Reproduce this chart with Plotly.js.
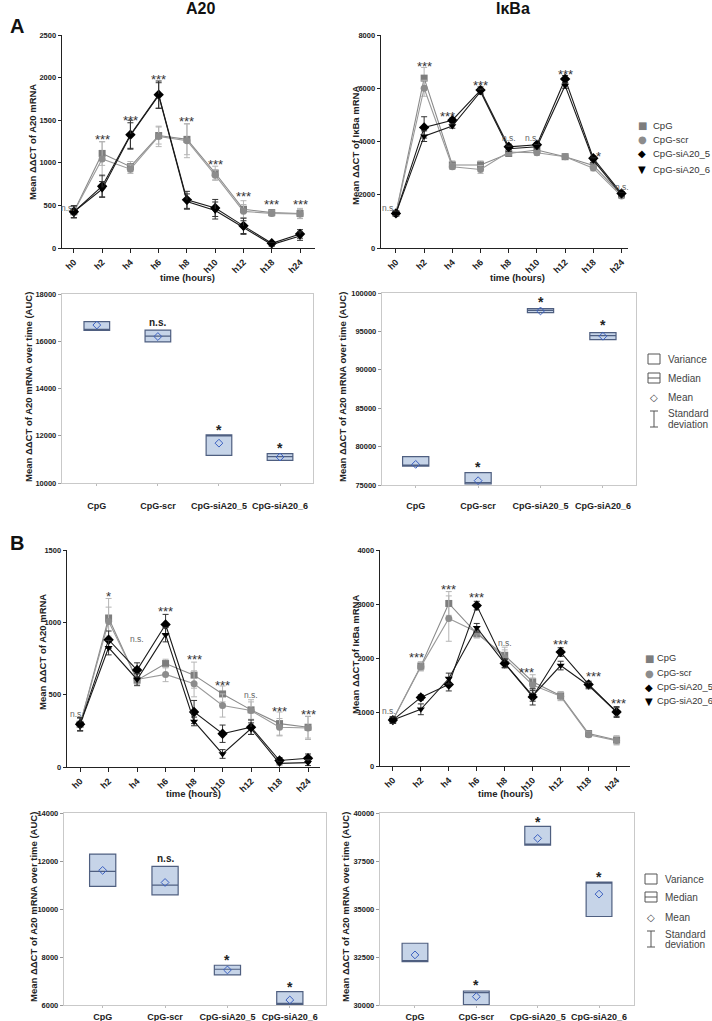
<!DOCTYPE html>
<html><head><meta charset="utf-8">
<script src="https://cdn.plot.ly/plotly-3.0.1.min.js"></script>
<style>html,body{margin:0;padding:0;background:#fff}#chart{width:712px;height:1021px}</style>
</head><body><div id="chart"></div>
<script>
const W = 712, H = 1021;
const px = v => v / W, py = v => 1 - v / H;

const timePoints = ['h0','h2','h4','h6','h8','h10','h12','h18','h24'];
const groups = ['CpG','CpG-scr','CpG-siA20_5','CpG-siA20_6'];

// ---- Panel A : A20 time course ----
const a20A_CpG = [425, 1110, 955, 1320, 1275, 880, 455, 415, 405];
const a20A_scr = [425, 1045, 925, 1310, 1260, 855, 430, 405, 400];
const a20A_si5 = [425, 725, 1330, 1800, 565, 470, 260, 55, 165];
const a20A_si6 = [425, 690, 1320, 1790, 545, 440, 240, 40, 140];
const a20A_CpG_sd = [70, 140, 60, 100, 180, 80, 100, 30, 60];
const a20A_scr_sd = [70, 200, 50, 120, 200, 60, 80, 30, 50];
const a20A_si5_sd = [70, 130, 170, 160, 100, 100, 90, 20, 50];
const a20A_si6_sd = [70, 90, 150, 150, 90, 100, 80, 20, 50];
const a20A_sig = ['n.s.','***','***','***','***','***','***','***','***'];
const a20A_sigY = [470, 1310, 1535, 2010, 1525, 1010, 635, 540, 540];

// ---- Panel A : IkBa time course ----
const ikbA_CpG = [1300, 6380, 3120, 3120, 3550, 3680, 3430, 3100, 2000];
const ikbA_scr = [1300, 6000, 3050, 2950, 3600, 3580, 3430, 3000, 1950];
const ikbA_si5 = [1300, 4530, 4800, 5930, 3800, 3880, 6350, 3370, 2050];
const ikbA_si6 = [1300, 4200, 4580, 5870, 3730, 3800, 6100, 3300, 2000];
const ikbA_CpG_sd = [80, 400, 150, 150, 100, 100, 60, 100, 80];
const ikbA_scr_sd = [80, 300, 100, 150, 100, 100, 60, 100, 80];
const ikbA_si5_sd = [80, 400, 80, 120, 100, 80, 130, 80, 60];
const ikbA_si6_sd = [80, 200, 80, 100, 100, 80, 100, 80, 60];
const ikbA_sig = ['n.s.','***','***','***','n.s.','n.s.','***','*','n.s.'];
const ikbA_sigY = [1500, 6940, 5040, 6210, 4125, 4125, 6625, 3560, 2310];

// ---- Panel B : A20 time course ----
const a20B_CpG = [295, 1030, 600, 715, 635, 505, 395, 300, 275];
const a20B_scr = [295, 1005, 605, 640, 575, 425, 390, 275, 270];
const a20B_si5 = [295, 880, 670, 985, 380, 230, 275, 45, 60];
const a20B_si6 = [295, 825, 605, 915, 315, 90, 265, 25, 30];
const a20B_CpG_sd = [45, 135, 40, 30, 90, 55, 70, 80, 75];
const a20B_scr_sd = [45, 100, 40, 50, 90, 80, 60, 60, 80];
const a20B_si5_sd = [45, 60, 50, 70, 80, 60, 50, 20, 30];
const a20B_si6_sd = [45, 50, 40, 50, 30, 30, 40, 10, 20];
const a20B_sig = ['n.s.','*','n.s.','***','***','***','n.s.','***','***'];
const a20B_sigY = [369, 1200, 884, 1096, 762, 584, 500, 404, 381];

// ---- Panel B : IkBa time course ----
const ikbB_CpG = [850, 1850, 3010, 2450, 2050, 1560, 1300, 600, 480];
const ikbB_scr = [850, 1840, 2730, 2480, 2000, 1500, 1290, 580, 470];
const ikbB_si5 = [850, 1270, 1510, 2970, 1900, 1280, 2110, 1510, 1000];
const ikbB_si6 = [850, 1050, 1620, 2560, 1900, 1300, 1860, 1490, 1000];
const ikbB_CpG_sd = [60, 80, 220, 80, 150, 130, 80, 50, 80];
const ikbB_scr_sd = [60, 80, 420, 100, 150, 130, 80, 50, 80];
const ikbB_si5_sd = [60, 50, 120, 80, 80, 150, 80, 60, 100];
const ikbB_si6_sd = [60, 100, 100, 80, 80, 100, 80, 60, 80];
const ikbB_sig = ['n.s.','***','***','***','n.s.','***','***','***','***'];
const ikbB_sigY = [1025, 2068, 3333, 3167, 2284, 1778, 2302, 1704, 1210];

// ---- AUC summaries ----
const aucA20A_q1 = [16457, 15971, 11171, 10957];
const aucA20A_med = [16480, 16214, 12020, 11114];
const aucA20A_q3 = [16829, 16471, 12040, 11243];
const aucA20A_mean = [16686, 16200, 11686, 11100];
const aucA20A_sig = ['', 'n.s.', '*', '*'];
const aucA20A_sigY = [null, 16800, 12360, 11600];

const aucIkbA_q1 = [77470, 75130, 97444, 93934];
const aucIkbA_med = [77500, 75300, 97750, 94450];
const aucIkbA_q3 = [78683, 76604, 97964, 94844];
const aucIkbA_mean = [77686, 75563, 97660, 94367];
const aucIkbA_sig = ['', '*', '*', '*'];
const aucIkbA_sigY = [null, 77700, 99200, 96230];

const aucA20B_q1 = [10939, 10591, 7252, 6028];
const aucA20B_med = [11565, 10995, 7489, 6040];
const aucA20B_q3 = [12289, 11774, 7656, 6557];
const aucA20B_mean = [11609, 11106, 7461, 6209];
const aucA20B_sig = ['', 'n.s.', '*', '*'];
const aucA20B_sigY = [null, 12122, 8017, 6877];

const aucIkbB_q1 = [32261, 30020, 38330, 34609];
const aucIkbB_med = [32300, 30643, 38350, 36365];
const aucIkbB_q3 = [33217, 30730, 39304, 36400];
const aucIkbB_mean = [32609, 30435, 38678, 35774];
const aucIkbB_sig = ['', '*', '*', '*'];
const aucIkbB_sigY = [null, 31200, 39700, 36800];

// ---------- styling ----------
const FONT = 'Liberation Sans, Arial, sans-serif';
const symbols = ['square','circle','diamond','triangle-down'];
const mColors = ['#7d7d7d','#8c8c8c','#000000','#000000'];
const lColors = ['#8a8a8a','#9a9a9a','#1a1a1a','#1a1a1a'];
const eColors = ['#b5b5b5','#b5b5b5','#333333','#333333'];
const mSizes = [7, 7, 8, 7];

const linePanels = [
  {n:1, s:[a20A_CpG,a20A_scr,a20A_si5,a20A_si6], sd:[a20A_CpG_sd,a20A_scr_sd,a20A_si5_sd,a20A_si6_sd],
   sig:a20A_sig, sigY:a20A_sigY, shift:[-6,0,0,0,0,0,0,0,0],
   xp:[62,315], yp:[35,248], xr:[-0.42,8.53], yr:[0,2500], dt:500},
  {n:2, s:[ikbA_CpG,ikbA_scr,ikbA_si5,ikbA_si6], sd:[ikbA_CpG_sd,ikbA_scr_sd,ikbA_si5_sd,ikbA_si6_sd],
   sig:ikbA_sig, sigY:ikbA_sigY, shift:[-7,0,-5,0,0,-5,0,5,0],
   xp:[381,628], yp:[35,248], xr:[-0.53,8.23], yr:[0,8000], dt:2000},
  {n:5, s:[a20B_CpG,a20B_scr,a20B_si5,a20B_si6], sd:[a20B_CpG_sd,a20B_scr_sd,a20B_si5_sd,a20B_si6_sd],
   sig:a20B_sig, sigY:a20B_sigY, shift:[-3,0,0,0,0,0,0,0,0],
   xp:[67,320], yp:[550,767], xr:[-0.46,8.42], yr:[0,1500], dt:500},
  {n:6, s:[ikbB_CpG,ikbB_scr,ikbB_si5,ikbB_si6], sd:[ikbB_CpG_sd,ikbB_scr_sd,ikbB_si5_sd,ikbB_si6_sd],
   sig:ikbB_sig, sigY:ikbB_sigY, shift:[-4,-4,0,0,0,-6,0,5,2],
   xp:[380,630], yp:[550,766], xr:[-0.46,8.48], yr:[0,4000], dt:1000}
];

const boxPanels = [
  {n:3, q1:aucA20A_q1, med:aucA20A_med, q3:aucA20A_q3, mean:aucA20A_mean, sig:aucA20A_sig, sigY:aucA20A_sigY,
   xp:[62,313], yp:[294,483], xr:[-0.57,3.54], yr:[10000,18000], dt:2000, standoff:12},
  {n:4, q1:aucIkbA_q1, med:aucIkbA_med, q3:aucIkbA_q3, mean:aucIkbA_mean, sig:aucIkbA_sig, sigY:aucIkbA_sigY,
   xp:[382,636], yp:[293,485], xr:[-0.54,3.53], yr:[75000,100000], dt:5000, standoff:10},
  {n:7, q1:aucA20B_q1, med:aucA20B_med, q3:aucA20B_q3, mean:aucA20B_mean, sig:aucA20B_sig, sigY:aucA20B_sigY,
   xp:[64,326], yp:[813,1005], xr:[-0.62,3.58], yr:[6000,14000], dt:2000, standoff:1},
  {n:8, q1:aucIkbB_q1, med:aucIkbB_med, q3:aucIkbB_q3, mean:aucIkbB_mean, sig:aucIkbB_sig, sigY:aucIkbB_sigY,
   xp:[380,634], yp:[813,1005], xr:[-0.57,3.57], yr:[30000,40000], dt:2500, standoff:1}
];

const data = [];
const layout = {
  width: W, height: H, margin:{l:0,r:0,t:0,b:0}, showlegend:false, hovermode:false,
  paper_bgcolor:'#fff', plot_bgcolor:'rgba(0,0,0,0)', font:{family:FONT, color:'#222'},
  annotations:[], shapes:[]
};
const ax = n => n === 1 ? '' : String(n);

linePanels.forEach(p => {
  const k = ax(p.n);
  [0,1,2,3].forEach(i => {
    data.push({
      type:'scatter', mode:'lines+markers', x: timePoints, y: p.s[i],
      xaxis:'x'+k, yaxis:'y'+k,
      line:{color:lColors[i], width:1.1},
      marker:{symbol:symbols[i], size:mSizes[i], color:mColors[i]},
      error_y:{type:'data', array:p.sd[i], visible:true, color:eColors[i], thickness:1, width:3},
      cliponaxis:false
    });
  });
  layout['xaxis'+k] = {
    domain:[px(p.xp[0]), px(p.xp[1])], anchor:'y'+k, type:'category',
    categoryorder:'array', categoryarray:timePoints, range:p.xr,
    showline:true, linecolor:'#222', linewidth:1.4, ticks:'outside', ticklen:4, tickcolor:'#222',
    tickangle:-45, tickfont:{size:9, weight:'bold', color:'#222'}, showgrid:false, zeroline:false
  };
  layout['yaxis'+k] = {
    domain:[py(p.yp[1]), py(p.yp[0])], anchor:'x'+k, range:p.yr, dtick:p.dt, tickformat:'d',
    showline:true, linecolor:'#222', linewidth:1.4, ticks:'outside', ticklen:3, tickcolor:'#222',
    tickfont:{size:7.5, weight:'bold', color:'#222'}, showgrid:false, zeroline:false
  };
  p.sig.forEach((t, i) => {
    const stars = t !== 'n.s.';
    layout.annotations.push({
      xref:'x'+k, yref:'y'+k, x: timePoints[i], y: p.sigY[i], text:t, showarrow:false,
      xshift:p.shift[i], yshift: stars ? -3 : 0, yanchor:'middle',
      font:{family:FONT, size: stars ? 13 : 8.5, color: stars ? '#333' : '#666'}
    });
  });
});

boxPanels.forEach(p => {
  const k = ax(p.n);
  data.push({
    type:'box', x:groups, q1:p.q1, median:p.med, q3:p.q3, lowerfence:p.q1, upperfence:p.q3,
    xaxis:'x'+k, yaxis:'y'+k, width:0.42, boxpoints:false,
    fillcolor:'rgba(188,204,228,0.85)', line:{color:'#4f5f80', width:1.2}, whiskerwidth:0
  });
  data.push({
    type:'scatter', mode:'markers', x:groups, y:p.mean, xaxis:'x'+k, yaxis:'y'+k,
    marker:{symbol:'diamond-open', size:6, color:'#3a5fc0', line:{width:1}}
  });
  layout['xaxis'+k] = {
    domain:[px(p.xp[0]), px(p.xp[1])], anchor:'y'+k, type:'category',
    categoryorder:'array', categoryarray:groups, range:p.xr,
    showline:true, mirror:true, linecolor:'#c9c9c9', linewidth:1.2,
    ticks:'outside', ticklen:2, tickcolor:'#bbb', ticklabelstandoff:p.standoff, tickangle:0,
    tickfont:{size:9, weight:'bold', color:'#222'}, showgrid:false, zeroline:false
  };
  layout['yaxis'+k] = {
    domain:[py(p.yp[1]), py(p.yp[0])], anchor:'x'+k, range:p.yr, dtick:p.dt, tickformat:'d',
    showline:true, mirror:true, linecolor:'#c9c9c9', linewidth:1.2,
    ticks:'outside', ticklen:3, tickcolor:'#999',
    tickfont:{size:7.5, weight:'bold', color:'#222'}, showgrid:false, zeroline:false
  };
  p.sig.forEach((t, i) => {
    if (!t) return;
    layout.annotations.push({
      xref:'x'+k, yref:'y'+k, x: groups[i], y: p.sigY[i], text:t, showarrow:false, yanchor:'middle',
      yshift: t === '*' ? -3 : 0,
      font:{family:FONT, size: t === '*' ? 14 : 10, weight:'bold', color:'#222'}
    });
  });
});

// ---- text labels in paper pixels ----
function txt(x, y, text, size, opts) {
  layout.annotations.push(Object.assign({
    xref:'paper', yref:'paper', x:px(x), y:py(y), text:text, showarrow:false,
    xanchor:'center', yanchor:'middle', font:{family:FONT, size:size, color:'#222'}
  }, opts || {}));
}
const bold = (s, c) => ({font:{family:FONT, size:s, weight:'bold', color:c || '#111'}});

txt(8, 26, 'A', 20, Object.assign({xanchor:'left'}, bold(20)));
txt(8, 543, 'B', 20, Object.assign({xanchor:'left'}, bold(20)));
txt(200, 9, 'A20', 16, bold(16));
txt(513, 9, 'IκBa', 16, bold(16));

const yT = (x, y, t) => txt(x, y, t, 9.5, Object.assign({textangle:-90}, bold(9.5, '#222')));
yT(33, 142, 'Mean ΔΔCT of A20 mRNA');
yT(355, 146, 'Mean ΔΔCT of IκBa mRNA');
yT(28, 387, 'Mean ΔΔCT of A20 mRNA over time (AUC)');
yT(342, 387, 'Mean ΔΔCT of A20 mRNA over time (AUC)');
yT(42, 652, 'Mean ΔΔCT of A20 mRNA');
yT(355, 655, 'Mean ΔΔCT of IκBa mRNA');
yT(33, 907, 'Mean ΔΔCT of A20 mRNA over time (AUC)');
yT(345, 907, 'Mean ΔΔCT of A20 mRNA over time (AUC)');

const xT = (x, y) => txt(x, y, 'time (hours)', 9.5, bold(9.5, '#222'));
xT(188, 277); xT(517, 277); xT(193, 793); xT(505, 793);

// line legends
const legSym = ['■','●','◆','▼'];
function lineLegend(sx, tx, ys, size) {
  groups.forEach((g, i) => {
    txt(sx, ys[i], legSym[i], 10, {font:{family:'DejaVu Sans', size:10, color:mColors[i]}});
    txt(tx, ys[i], g, size, {xanchor:'left', font:{family:FONT, size:size, color:'#333'}});
  });
}
lineLegend(642, 651, [125, 140, 154, 169], 9.5);
lineLegend(649, 655, [658, 673, 687, 701], 9.3);

// box legends
function boxLegend(ix, tx, yV, yM, yMean, yS1, yS2) {
  const sh = layout.shapes;
  const rect = (y0, y1) => sh.push({type:'rect', xref:'paper', yref:'paper',
    x0:px(ix-6), x1:px(ix+6), y0:py(y1), y1:py(y0), line:{color:'#555', width:1}, fillcolor:'#fff'});
  const ln = (x0, y0, x1, y1) => sh.push({type:'line', xref:'paper', yref:'paper',
    x0:px(x0), x1:px(x1), y0:py(y0), y1:py(y1), line:{color:'#555', width:1}});
  rect(yV-5, yV+5);
  rect(yM-5, yM+5); ln(ix-6, yM, ix+6, yM);
  txt(ix, yMean, '◇', 10, {font:{family:'DejaVu Sans', size:10, color:'#444'}});
  ln(ix, yS1-3, ix, yS2+3); ln(ix-4, yS1-3, ix+4, yS1-3); ln(ix-4, yS2+3, ix+4, yS2+3);
  const o = {xanchor:'left', font:{family:FONT, size:10, color:'#444'}};
  txt(tx, yV, 'Variance', 10, o);
  txt(tx, yM, 'Median', 10, o);
  txt(tx, yMean, 'Mean', 10, o);
  txt(tx, yS1, 'Standard', 10, o);
  txt(tx, yS2, 'deviation', 10, o);
}
boxLegend(654, 666, 359, 378, 397, 414, 424);
boxLegend(651, 663, 879, 897, 917, 934, 944);

Plotly.newPlot('chart', data, layout, {staticPlot:true});
</script>
</body></html>
